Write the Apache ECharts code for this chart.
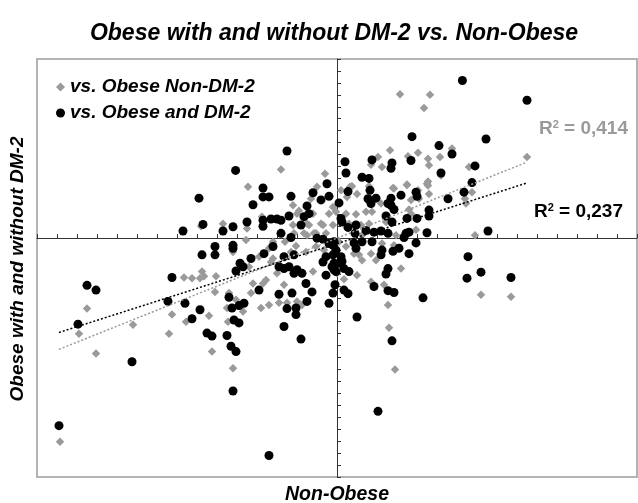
<!DOCTYPE html>
<html>
<head>
<meta charset="utf-8">
<style>
  html, body { margin: 0; padding: 0; background: #fff; }
  #chart { width: 638px; height: 503px; }
</style>
<script src="https://cdn.jsdelivr.net/npm/echarts@6/dist/echarts.min.js"></script>
</head>
<body>
<div id="chart"></div>
<script>
// Axis ranges (one tick per unit)
const xRange = [-15, 15];
const yRange = [-20, 15];

// vs. Obese Non-DM-2 (grey diamonds): [non-obese, obese]
const nonDmPoints = [
  [-2.8,5.75],[-0.6,5.4],[-4.45,4.3],[-2.2,2.75],[-1.9,2.3],[-0.2,2.6],[-0.4,2.05],
  [-6.8,1.0],[-5.7,1.2],[-2.0,2.05],[-1.4,1.1],[-0.7,1.1],[-0.2,1.1],[-2.15,0.4],[-1.65,0.4],
  [-1.5,0.25],[-1.05,0.4],[-0.55,0.4],[-2.6,-0.3],[-4.55,-0.15],[-3.2,-0.3],[-5.2,-1.15],
  [-3.9,-1.55],[-3.4,-0.85],[-3.2,-1.7],[-2.3,-1.15],[-2.05,-0.65],[-1.55,-1.15],[-1.05,-0.7],
  [-4.4,-2.4],[-3.3,-2.0],[-3.0,-2.95],[-1.2,-2.8],[-0.65,-1.0],[-0.05,-2.8],[-2.0,-5.3],
  [-1.75,-5.6],[-2.65,-3.9],[-4.2,-3.8],[-3.7,-3.8],[-3.55,-3.5],[-4.3,-4.6],[-3.8,-5.85],
  [-3.4,-5.6],[-5.4,-4.6],[-5.05,-5.15],[-5.5,-5.85],[-4.7,-6.15],[-6.05,-3.2],[-6.1,-4.5],
  [-5.45,-7.0],[-6.25,-9.5],[-5.2,-10.9],[-12.05,-9.65],[-12.9,-8.0],[-12.5,-5.9],[-10.2,-7.25],
  [-8.4,-8.0],[-8.25,-6.4],[-7.55,-7.0],[-6.4,-6.5],[-7.65,-3.3],[-7.25,-3.35],[-6.85,-3.35],
  [-6.75,-2.8],[-6.65,-3.2],[-13.85,-17.05],[2.9,-11.0],
  [3.15,12.05],[4.65,12.0],[4.35,10.9],[9.5,6.8],[5.75,7.5],[2.65,7.35],[4.05,7.15],[2.05,6.8],
  [1.7,6.15],[2.25,5.95],[3.55,6.85],[4.55,6.65],[5.15,6.8],[4.6,6.1],[5.2,5.25],[4.55,4.75],
  [4.55,4.4],[6.6,5.95],[3.5,4.45],[1.6,4.35],[2.8,4.2],[4.05,4.0],[6.75,3.85],[6.4,3.3],
  [6.45,2.9],[0.65,4.3],[2.2,2.9],[3.7,3.2],[3.6,2.4],[0.45,2.05],[0.95,2.0],[1.45,2.2],[1.75,2.2],
  [-0.05,2.2],[0.6,1.2],[1.2,1.1],[1.6,1.2],[2.45,1.35],[3.7,2.05],[2.95,0.25],[3.95,0.7],
  [1.25,0.25],[6.9,0.25],[0.1,-0.3],[0.45,-0.7],[0.85,-1.3],[1.1,-1.4],[1.25,-1.85],[2.25,-0.45],
  [1.7,-1.3],[2.85,-0.6],[1.95,-1.85],[3.2,-2.55],[0.35,-3.45],[1.0,-3.1],[1.7,-3.65],[2.35,-3.9],
  [2.55,-5.6],[2.6,-7.5],[7.2,-4.75],[8.7,-4.9],
  [-1.3,3.3],[-1.0,4.3],[0.2,4.0],[0.75,4.35],[0.5,3.45],[1.0,3.7],[2.85,4.15],[3.5,4.5],
  [4.1,3.3],[4.5,4.55],[4.6,3.7],[-1.2,2.05],[-1.5,1.2],[-0.8,1.2],[-1.15,0.4],
  [-4.5,0.8],[-3.75,1.8],[-2.2,1.1],[-2.9,-5.4],[-2.5,-5.4],[0.0,-2.95]
];

// vs. Obese and DM-2 (black dots): [non-obese, obese]
const dm2Points = [
  [-2.5,7.3],[-5.07,5.67],[-3.7,4.2],[-3.7,3.45],[-3.4,3.45],[-6.9,3.35],[-2.3,3.5],[-1.2,3.8],
  [-0.5,4.55],[-0.8,3.2],[-0.4,3.5],[-4.2,2.8],[-1.5,2.7],[-1.4,2.05],[-1.65,1.8],
  [-4.5,1.35],[-3.7,1.5],[-3.7,1.0],[-3.3,1.6],[-3.0,1.6],[-2.8,1.5],[-2.4,1.85],[-1.8,1.1],
  [-6.7,1.15],[-7.7,0.6],[-5.7,0.6],[-5.2,0.95],[-2.8,0.4],[-2.3,0.05],[-1.0,0.0],[-0.7,-0.1],
  [-5.2,-0.6],[-5.2,-0.85],[-6.1,-0.7],[-6.1,-1.4],[-6.75,-1.4],[-4.85,-2.1],[-4.3,-1.7],
  [-3.65,-1.3],[-3.2,-0.7],[-2.65,-1.55],[-2.15,-1.4],[-0.7,-2.0],[-0.55,-1.55],[-0.2,-1.4],
  [-0.05,-1.0],[-0.2,-0.6],[-2.9,-2.4],[-2.65,-2.55],[-2.4,-2.4],[-2.15,-2.95],[-2.0,-2.65],
  [-1.75,-2.95],[-5.05,-2.75],[-4.7,-2.4],[-0.55,-3.1],[-0.15,-2.65],[-1.55,-3.8],[-1.25,-4.5],
  [-0.1,-3.9],[-0.2,-4.6],[-0.4,-5.45],[-1.5,-5.3],[-2.5,-5.9],[-2.05,-5.85],[-2.05,-6.4],
  [-2.9,-4.7],[-2.25,-4.6],[-3.9,-4.35],[-5.4,-4.95],[-5.25,-5.85],[-4.9,-5.65],[-4.65,-5.45],
  [-5.15,-6.85],[-4.9,-7.1],[-2.65,-7.4],[-1.8,-8.45],[-6.5,-7.95],[-6.25,-8.2],[-5.5,-8.15],
  [-5.3,-9.05],[-5.05,-9.5],[-10.25,-10.35],[-12.95,-7.2],[-12.5,-3.95],[-12.05,-4.35],
  [-8.45,-5.3],[-7.6,-5.45],[-7.25,-6.75],[-6.85,-6.0],[-8.25,-3.3],
  [-5.2,-12.8],[-13.9,-15.7],[-3.4,-18.2],[2.05,-14.5],
  [6.27,13.2],[9.5,11.55],[3.75,8.5],[7.45,8.3],[5.1,7.75],[5.75,7.05],[1.75,6.55],[2.75,6.3],
  [2.7,5.85],[3.7,6.5],[0.4,6.4],[0.45,5.45],[5.2,5.45],[6.9,6.05],[1.25,5.1],[1.6,5.0],
  [6.75,4.65],[0.55,3.9],[1.65,4.0],[3.95,3.85],[4.0,3.5],[3.2,3.6],[6.35,3.85],[5.55,3.3],
  [1.55,3.3],[1.95,3.35],[2.7,3.35],[2.7,2.75],[1.7,2.9],[2.55,2.9],[0.1,2.95],[2.45,1.85],
  [2.85,2.4],[3.5,1.65],[4.0,1.65],[4.6,2.35],[4.6,1.85],[0.2,1.65],
  [0.25,1.35],[2.75,1.35],[0.95,1.1],[0.9,0.4],[1.45,0.65],[1.85,0.5],[2.2,0.6],[2.55,0.4],
  [1.75,-0.3],[3.45,0.4],[3.6,0.5],[3.35,0.05],[4.5,0.45],[3.95,-0.4],[7.55,0.6],[-0.4,-0.45],
  [-0.15,-0.3],[0.2,-1.55],[0.25,-1.95],[-0.15,-2.1],[0.1,-2.1],[-0.25,-2.4],[0.35,-2.55],
  [0.6,-2.8],[-0.05,-2.8],[0.85,-0.4],[1.25,-0.3],[0.95,-0.85],[2.25,-1.0],[2.2,-1.4],
  [2.8,-1.1],[3.1,-0.85],[3.6,-1.3],[2.55,-2.55],[2.45,-3.0],[0.35,-4.35],[0.55,-4.65],
  [1.85,-4.05],[2.55,-4.4],[2.85,-4.55],[4.3,-5.0],[1.0,-6.6],[2.75,-8.6],[6.55,-1.55],
  [6.5,-3.35],[7.2,-2.85],[8.7,-3.3],[0.55,0.9]
];

// Linear trend lines: [slope, intercept] and the x span they cover
const nonDmTrend = [0.67, 0.0];
const dm2Trend = [0.535, -0.46];
const trendSpan = [-13.9, 9.5];

const r2Labels = ['0,414', '0,237'];
const seriesNames = ['vs. Obese Non-DM-2', 'vs. Obese and DM-2'];

const GREY = '#9a9a9a';
const FONT = '"Liberation Sans", Arial, sans-serif';

function trendLine(t) {
  return trendSpan.map(x => [x, t[0] * x + t[1]]);
}

const chart = echarts.init(document.getElementById('chart'), null, { renderer: 'canvas' });

const axisCommon = {
  type: 'value',
  interval: 1,
  axisLine: { onZero: true, lineStyle: { color: '#333', width: 1 } },
  axisTick: { show: true, inside: true, length: 4, lineStyle: { color: '#333', width: 1 } },
  axisLabel: { show: false },
  splitLine: { show: false }
};

chart.setOption({
  animation: false,
  backgroundColor: '#fff',
  title: {
    text: 'Obese with and without DM-2 vs. Non-Obese',
    left: 329, top: 17, textAlign: 'center',
    textStyle: { fontFamily: FONT, fontSize: 23, fontWeight: 'bold', fontStyle: 'italic', color: '#000' }
  },
  legend: {
    data: seriesNames,
    orient: 'vertical',
    left: 51, top: 72,
    itemWidth: 9, itemHeight: 9, itemGap: 6,
    textStyle: { fontFamily: FONT, fontSize: 19, fontWeight: 'bold', fontStyle: 'italic', color: '#000', lineHeight: 20 }
  },
  grid: {
    left: 37, right: 1, top: 59, bottom: 26,
    show: true, borderColor: '#b4b4b4', borderWidth: 2, backgroundColor: 'transparent'
  },
  xAxis: Object.assign({}, axisCommon, { min: xRange[0], max: xRange[1] }),
  yAxis: Object.assign({}, axisCommon, { min: yRange[0], max: yRange[1] }),
  graphic: [
    {
      type: 'text', x: 18, y: 269, rotation: Math.PI / 2,
      style: {
        text: 'Obese with and without DM-2', fill: '#000',
        font: 'italic bold 19px ' + FONT, align: 'center', verticalAlign: 'middle'
      }
    },
    {
      type: 'text', x: 337, y: 495,
      style: {
        text: 'Non-Obese', fill: '#000',
        font: 'italic bold 19.5px ' + FONT, align: 'center', verticalAlign: 'middle'
      }
    },
    {
      type: 'text', x: 628, y: 129,
      style: {
        text: 'R{s|2} = ' + r2Labels[0], fill: GREY,
        font: 'bold 19px ' + FONT, align: 'right', verticalAlign: 'middle',
        rich: { s: { fontSize: 11, fontWeight: 'bold', fontFamily: FONT, fill: GREY, verticalAlign: 'top', padding: [0, 0, 8, 0] } }
      }
    },
    {
      type: 'text', x: 623, y: 212,
      style: {
        text: 'R{s|2} = ' + r2Labels[1], fill: '#000',
        font: 'bold 19px ' + FONT, align: 'right', verticalAlign: 'middle',
        rich: { s: { fontSize: 11, fontWeight: 'bold', fontFamily: FONT, fill: '#000', verticalAlign: 'top', padding: [0, 0, 8, 0] } }
      }
    }
  ],
  series: [
    {
      name: seriesNames[0], type: 'scatter', symbol: 'diamond', symbolSize: 8.5,
      itemStyle: { color: GREY, opacity: 1 }, data: nonDmPoints, z: 3
    },
    {
      name: seriesNames[1], type: 'scatter', symbol: 'circle', symbolSize: 9,
      itemStyle: { color: '#000', opacity: 1 }, data: dm2Points, z: 4
    },
    {
      name: 'trend-nondm', type: 'line', data: trendLine(nonDmTrend), symbol: 'none',
      lineStyle: { color: GREY, width: 1.5, type: [2, 2] }, z: 5, silent: true
    },
    {
      name: 'trend-dm2', type: 'line', data: trendLine(dm2Trend), symbol: 'none',
      lineStyle: { color: '#000', width: 1.5, type: [2, 2] }, z: 5, silent: true
    }
  ]
});
</script>
</body>
</html>
